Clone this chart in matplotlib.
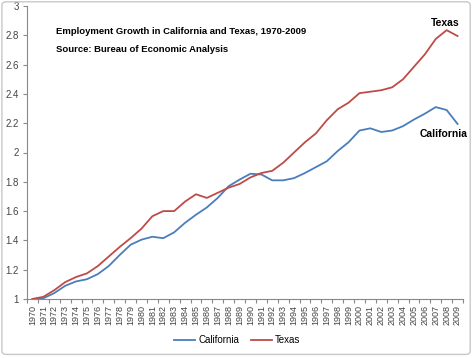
import matplotlib
matplotlib.use('Agg')
import matplotlib.pyplot as plt
from matplotlib.patches import FancyBboxPatch

# Data (index, 1970 = 1)
years = list(range(1970, 2010))
california = [1.0, 1.005, 1.04, 1.09, 1.12, 1.135, 1.17, 1.225, 1.3, 1.37,
              1.405, 1.425, 1.415, 1.455, 1.52, 1.575, 1.625, 1.69, 1.77, 1.815,
              1.855, 1.85, 1.81, 1.81, 1.825, 1.86, 1.9, 1.94, 2.01, 2.07,
              2.15, 2.165, 2.14, 2.15, 2.18, 2.225, 2.265, 2.31, 2.29, 2.195]
texas = [1.0, 1.015, 1.06, 1.115, 1.15, 1.175, 1.225, 1.29, 1.355, 1.415,
         1.48, 1.565, 1.6, 1.6, 1.665, 1.715, 1.69, 1.725, 1.76, 1.785,
         1.83, 1.86, 1.875, 1.93, 2.0, 2.07, 2.13, 2.22, 2.295, 2.34,
         2.405, 2.415, 2.425, 2.445, 2.5, 2.585, 2.67, 2.775, 2.835, 2.795]
y_ticks = [1, 1.2, 1.4, 1.6, 1.8, 2, 2.2, 2.4, 2.6, 2.8, 3]

blue = '#4a7ebb'
red = '#be4b48'

plt.rcParams['font.family'] = ['Liberation Sans', 'DejaVu Sans']

fig = plt.figure(figsize=(4.74, 3.58), dpi=100)
ax = fig.add_axes([27 / 474, 59 / 358, 436 / 474, 293 / 358])

# outer chart frame
frame = FancyBboxPatch((0.004, 0.01), 0.988, 0.985, boxstyle='round,pad=0,rounding_size=0.01',
                       transform=fig.transFigure, fill=False, edgecolor='#c8c8c8', lw=1.0)
fig.patches.append(frame)

x = list(range(len(years)))
ax.plot(x, california, color=blue, lw=1.3, label='California')
ax.plot(x, texas, color=red, lw=1.3, label='Texas')

ax.set_xlim(-0.5, len(years) - 0.5)
ax.set_ylim(1, 3)
ax.set_yticks(y_ticks)
ax.set_yticklabels([f'{v:g}' for v in y_ticks], fontsize=7, color='#444444')

# category axis: tick marks between categories, labels centered
ax.set_xticks([i - 0.5 for i in range(len(years) + 1)])
ax.set_xticklabels([])
ax.set_xticks(x, minor=True)
ax.set_xticklabels([str(y) for y in years], minor=True, rotation=90, fontsize=6.5, color='#444444')
ax.tick_params(axis='x', which='major', length=3, direction='out', color='#888888')
ax.tick_params(axis='x', which='minor', length=0, pad=4)
ax.tick_params(axis='y', length=3, direction='out', color='#888888', pad=3)

for s in ['top', 'right']:
    ax.spines[s].set_visible(False)
for s in ['left', 'bottom']:
    ax.spines[s].set_color('#888888')
    ax.spines[s].set_linewidth(0.8)

fig.text(56 / 474, 1 - 31 / 358, 'Employment Growth in California and Texas, 1970-2009',
         fontsize=6.8, fontweight='bold', va='center', ha='left')
fig.text(56 / 474, 1 - 49 / 358, 'Source: Bureau of Economic Analysis',
         fontsize=6.8, fontweight='bold', va='center', ha='left')

ax.text(37.85, 2.884, 'Texas', fontsize=7.5, fontweight='bold', ha='center', va='center')
ax.text(37.76, 2.126, 'California', fontsize=7.5, fontweight='bold', ha='center', va='center')

fig.legend(loc='center', bbox_to_anchor=(237 / 474, 1 - 340 / 358), ncol=2, frameon=False,
           fontsize=7, handlelength=2.2, columnspacing=1.2, handletextpad=0.3)

fig.savefig('out.png', dpi=100)
